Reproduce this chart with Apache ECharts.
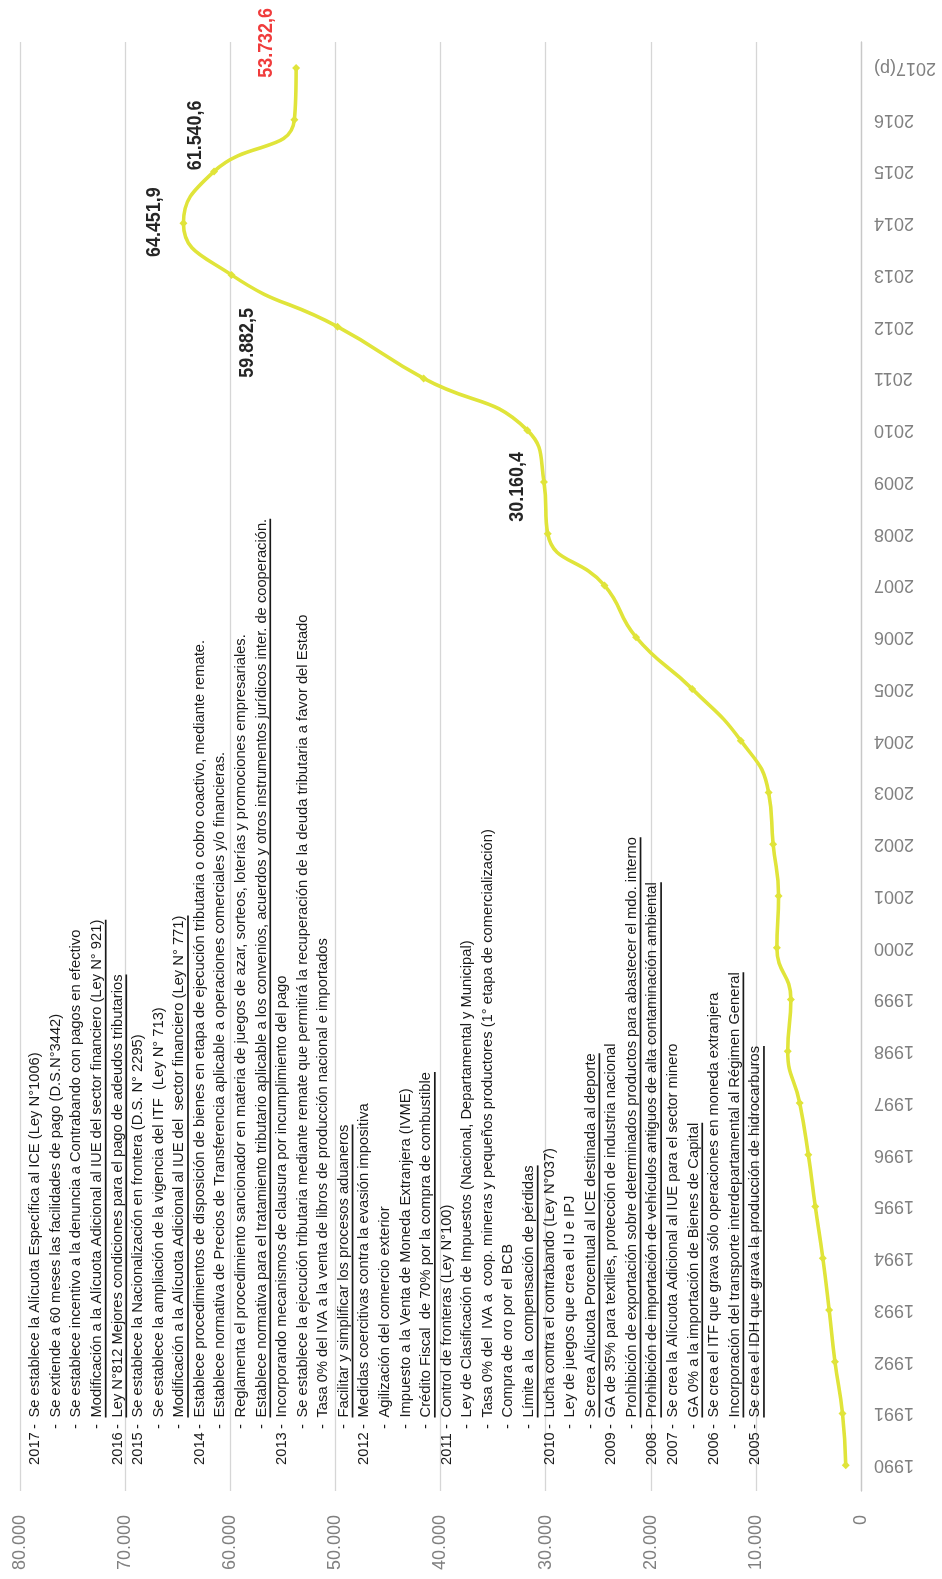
<!DOCTYPE html>
<html lang="es">
<head>
<meta charset="UTF-8">
<title>Recaudación tributaria 1990-2017</title>
<script src="https://cdn.jsdelivr.net/npm/echarts@6/dist/echarts.min.js"></script>
<style>
html, body { margin: 0; padding: 0; background: #fff; }
#main { width: 942px; height: 1579px; }
</style>
</head>
<body>
<div id="main"></div>
<script>
// categorias (eje de años)
var years = ['1990','1991','1992','1993','1994','1995','1996','1997','1998','1999',
             '2000','2001','2002','2003','2004','2005','2006','2007','2008','2009',
             '2010','2011','2012','2013','2014','2015','2016','2017(p)'];
// recaudación (millones de Bs)
var values = [1450, 1760, 2480, 3030, 3630, 4350, 5010, 5830, 6970, 6670,
              8000, 7840, 8360, 8790, 11430, 16060, 21400, 24400, 29800, 30160.4,
              31750, 41600, 49800, 59882.5, 64451.9, 61540.6, 53900, 53732.6];
// años con etiqueta de valor
var labeledYears = ['2009', '2013', '2014', '2015', '2017(p)'];
// eje de valores
var valueMin = 0, valueMax = 80000, valueStep = 10000;

// normas por año: [año, texto, subrayado]
var notes = [
  ['2017', 'Se establece la Alícuota Específica al ICE (Ley N°1006)', 0],
  ['', 'Se extiende a 60 meses las facilidades de pago (D.S.N°3442)', 0],
  ['', 'Se establece incentivo a la denuncia a Contrabando con pagos en efectivo', 0],
  ['', 'Modificación a la Alícuota Adicional al IUE del sector financiero (Ley N° 921)', 1],
  ['2016', 'Ley N°812 Mejores condiciones para el pago de adeudos tributarios', 1],
  ['2015', 'Se establece la Nacionalización en frontera (D.S. N° 2295)', 0],
  ['', 'Se establece la ampliación de la vigencia del ITF  (Ley N° 713)', 0],
  ['', 'Modificación a la Alícuota Adicional al IUE del  sector financiero (Ley N° 771)', 1],
  ['2014', 'Establece procedimientos de disposición de bienes en etapa de ejecución tributaria o cobro coactivo, mediante remate.', 0],
  ['', 'Establece normativa de Precios de Transferencia aplicable a operaciones comerciales y/o financieras.', 0],
  ['', 'Reglamenta el procedimiento sancionador en materia de juegos de azar, sorteos, loterías y promociones empresariales.', 0],
  ['', 'Establece normativa para el tratamiento tributario aplicable a los convenios, acuerdos y otros instrumentos jurídicos inter. de cooperación.', 1],
  ['2013', 'Incorporando mecanismos de clausura por incumplimiento del pago', 0],
  ['', 'Se establece la ejecución tributaria mediante remate que permitirá la recuperación de la deuda tributaria a favor del Estado', 0],
  ['', 'Tasa 0% del IVA a la venta de libros de producción nacional e importados', 0],
  ['', 'Facilitar y simplificar los procesos aduaneros', 1],
  ['2012', 'Medidas coercitivas contra la evasión impositiva', 0],
  ['', 'Agilización del comercio exterior', 0],
  ['', 'Impuesto a la Venta de Moneda Extranjera (IVME)', 0],
  ['', 'Crédito Fiscal  de 70% por la compra de combustible', 1],
  ['2011', 'Control de fronteras (Ley N°100)', 0],
  ['', 'Ley de Clasificación de Impuestos (Nacional, Departamental y Municipal)', 0],
  ['', 'Tasa 0% del  IVA a  coop. mineras y pequeños productores (1° etapa de comercialización)', 0],
  ['', 'Compra de oro por el BCB', 0],
  ['', 'Límite a la  compensación de pérdidas', 1],
  ['2010', 'Lucha contra el contrabando (Ley N°037)', 0],
  ['', 'Ley de juegos que crea el IJ e IPJ', 0],
  ['', 'Se crea Alícuota Porcentual al ICE destinada al deporte', 1],
  ['2009', 'GA de 35% para textiles, protección de industria nacional', 0],
  ['', 'Prohibición de exportación sobre determinados productos para abastecer el mdo. interno', 1],
  ['2008', 'Prohibición de importación de vehículos antiguos de alta contaminación ambiental', 1],
  ['2007', 'Se crea la Alícuota Adicional al IUE para el sector minero', 0],
  ['', 'GA 0% a la importación de Bienes de Capital', 1],
  ['2006', 'Se crea el ITF que grava sólo operaciones en moneda extranjera', 0],
  ['', 'Incorporación del transporte interdepartamental al Régimen General', 1],
  ['2005', 'Se crea el IDH que grava la producción de hidrocarburos', 1]
];

var FONT = 'Liberation Sans';
var SX = 0.95;   // letra algo estrecha, como Arial Narrow
var ctx = document.createElement('canvas').getContext('2d');

function thousands(n) {
  return String(n).replace(/\B(?=(\d{3})+(?!\d))/g, '.');
}
function fmtValue(v) {
  var p = v.toFixed(1).split('.');
  return thousands(p[0]) + ',' + p[1];
}

var chart = echarts.init(document.getElementById('main'));
var lineColor = '#e0e43a';

chart.setOption({
  animation: false,
  grid: { left: 20, right: 81, top: 42, bottom: 88 },
  xAxis: {
    type: 'value',
    inverse: true,
    min: valueMin,
    max: valueMax,
    interval: valueStep,
    axisLine: { show: false },
    axisTick: { show: false },
    splitLine: { lineStyle: { color: '#d6d6d6', width: 1.3 } },
    axisLabel: {
      rotate: 90,
      margin: 24,
      color: '#808080',
      fontFamily: FONT,
      fontSize: 18,
      formatter: function (v) { return thousands(v); }
    }
  },
  yAxis: {
    type: 'category',
    position: 'right',
    data: years,
    boundaryGap: true,
    axisLine: { show: true, lineStyle: { color: '#c8c8c8', width: 1.3 } },
    axisTick: { show: false },
    splitLine: { show: false },
    axisLabel: {
      rotate: 180,
      margin: 13,
      color: '#808080',
      fontFamily: FONT,
      fontSize: 18
    }
  },
  series: [{
    type: 'line',
    data: values,
    smooth: 0.5,
    symbol: 'diamond',
    symbolSize: 8,
    itemStyle: { color: lineColor },
    lineStyle: { color: lineColor, width: 3.6 },
    z: 5
  }]
});

var gfx = [];

// columnas de texto (giradas 90°)
var noteFont = '15.5px "' + FONT + '"';
ctx.font = noteFont;
function noteText(t, x) {
  return { type: 'text', style: { text: t, x: x, y: 0, font: noteFont, fill: '#1a1a1a',
    align: 'left', verticalAlign: 'middle', textAlign: 'left', textVerticalAlign: 'middle' } };
}
notes.forEach(function (n, i) {
  var cx = 35 + i * 20.57;
  var children = [];
  if (n[0]) children.push(noteText(n[0], 0));
  children.push(noteText('-', 38));
  children.push(noteText(n[1], 50));
  if (n[2]) {
    var w = ctx.measureText(n[1]).width;
    children.push({ type: 'line', shape: { x1: 50, y1: 9, x2: 50 + w, y2: 9 },
      style: { stroke: '#1a1a1a', lineWidth: 1.7 } });
  }
  gfx.push({ type: 'group', x: cx, y: 1465, rotation: Math.PI / 2, scaleX: SX, z: 100, children: children });
});

// etiquetas de valor
var labelShift = {
  '2009': [-26, 5, '#262626'],
  '2013': [16, 68, '#262626'],
  '2014': [-29, -1, '#262626'],
  '2015': [-18, -36, '#262626'],
  '2017(p)': [-30, -25, '#f03c3c']
};
labeledYears.forEach(function (y) {
  var i = years.indexOf(y);
  var p = chart.convertToPixel({ gridIndex: 0 }, [values[i], i]);
  var s = labelShift[y];
  gfx.push({
    type: 'text', x: p[0] + s[0], y: p[1] + s[1], rotation: Math.PI / 2, scaleX: 0.92, z: 100,
    style: { text: fmtValue(values[i]), x: 0, y: 0, font: 'bold 19.5px "' + FONT + '"', fill: s[2],
      align: 'center', verticalAlign: 'middle', textAlign: 'center', textVerticalAlign: 'middle' }
  });
});

chart.setOption({ graphic: gfx });
</script>
</body>
</html>
